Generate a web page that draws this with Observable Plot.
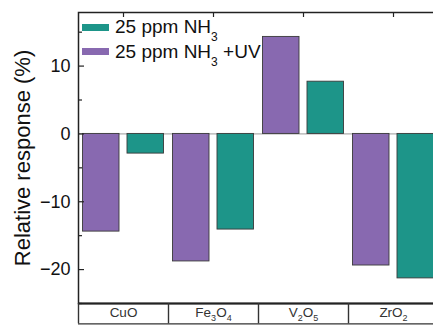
<!DOCTYPE html>
<html>
<head>
<meta charset="utf-8">
<script src="https://cdn.jsdelivr.net/npm/d3@7"></script>
<script src="https://cdn.jsdelivr.net/npm/@observablehq/plot@0.6"></script>
<style>
  html, body { margin: 0; padding: 0; background: #fff; overflow: hidden; width: 433px; height: 325px; }
  #wrap { position: relative; width: 438px; height: 325px; }
  #legend { position: absolute; left: 82px; top: 15px; }
  #legend [class$="-swatch"] { height: 24.5px; padding-bottom: 0 !important; }
  #legend [class$="-swatch"] svg { margin-right: 6px !important; }
  #legend [class$="-swatch-label"] { overflow: visible !important; color: #111; }
  #legend sub { font-size: 12px; position: relative; top: 3px; vertical-align: sub; line-height: 0; }
</style>
</head>
<body>
<div id="wrap"><div id="chart"></div><div id="legend"></div></div>
<script>
const categories = ["CuO", "Fe3O4", "V2O5", "ZrO2"];
const series = ["25 ppm NH3", "25 ppm NH3 +UV"];
const nh3 = [-2.9, -14.1, 7.7, -21.3];
const nh3UV = [-14.4, -18.8, 14.3, -19.4];
const colors = ["#1d9589", "#8869b0"];
const yTicks = [-20, -10, 0, 10];
const yMinorTicks = [-25, -15, -5, 5, 15];
const yDomain = [-25, 17.9];
const rowBottom = -28;

const dataUV = categories.map((c, i) => ({category: c, series: series[1], value: nh3UV[i]}));
const dataNH3 = categories.map((c, i) => ({category: c, series: series[0], value: nh3[i]}));

const font = "'Liberation Sans', Arial, sans-serif";

const chart = Plot.plot({
  width: 438,
  height: 325,
  marginLeft: 78,
  marginRight: 0,
  marginTop: 12,
  marginBottom: 22,
  style: {fontFamily: font, background: "#fff", overflow: "visible"},
  x: {domain: categories, padding: 0, label: null},
  y: {domain: yDomain, label: null},
  color: {domain: series, range: colors},
  marks: [
    Plot.ruleY([0], {stroke: "#9a9a9a", strokeWidth: 1}),
    Plot.barY(dataUV, {x: "category", y: "value", fill: "series", stroke: "#3a3a3a", strokeWidth: 0.9, insetLeft: 4.5, insetRight: 49}),
    Plot.barY(dataNH3, {x: "category", y: "value", fill: "series", stroke: "#3a3a3a", strokeWidth: 0.9, insetLeft: 49, insetRight: 4.5}),
    Plot.axisY(yTicks, {tickSize: -6, tickPadding: 14, fontSize: 18, fill: "#111", stroke: "#222", strokeWidth: 1.2, label: null}),
    Plot.axisY(yMinorTicks, {tickSize: -4, tickFormat: () => "", stroke: "#222", strokeWidth: 1.2, label: null}),
    Plot.axisY({ticks: [], label: "Relative response (%)", labelAnchor: "center", labelArrow: "none", labelOffset: 64, fontSize: 22, fill: "#111", tickSize: 0}),
    Plot.axisX({anchor: "top", tickSize: -4, tickFormat: () => "", stroke: "#222", strokeWidth: 1.2, label: null}),
    Plot.axisX({anchor: "bottom", tickSize: 0, tickPadding: 4, fontSize: 13.5, fill: "#333", label: null}),
    Plot.frame({stroke: "#222", strokeWidth: 1.5}),
    Plot.ruleY([yDomain[0]], {stroke: "#222", strokeWidth: 2.2}),
    Plot.ruleY([rowBottom], {stroke: "#333", strokeWidth: 1.2, clip: false}),
    Plot.ruleX(categories, {x: d => d, dx: -45, y1: yDomain[0], y2: rowBottom, stroke: "#333", strokeWidth: 1.4, clip: false})
  ]
});
document.getElementById("chart").appendChild(chart);

// subscripts in category labels
d3.select(chart).selectAll("g[aria-label='x-axis tick label'] text").each(function() {
  const t = this.textContent;
  const sel = d3.select(this);
  sel.text(null);
  const parts = t.split(/(\d+)/).filter(s => s.length);
  let shifted = false;
  parts.forEach(p => {
    const isNum = /^\d+$/.test(p);
    const ts = sel.append("tspan").text(p);
    if (isNum) { ts.attr("font-size", 9).attr("dy", shifted ? 0 : 4); shifted = true; }
    else if (shifted) { ts.attr("dy", -4); shifted = false; }
  });
});

const legend = Plot.legend({
  color: {domain: series, range: colors},
  legend: "swatches",
  columns: 1,
  swatchWidth: 27,
  swatchHeight: 7,
  style: {fontSize: "19px", fontFamily: font, color: "#111"}
});
document.getElementById("legend").appendChild(legend);
legend.querySelectorAll("[class$='-swatch-label']").forEach(el => {
  el.innerHTML = el.textContent.replace(/([A-Za-z])(\d+)/g, "$1<sub>$2</sub>");
});
</script>
</body>
</html>
